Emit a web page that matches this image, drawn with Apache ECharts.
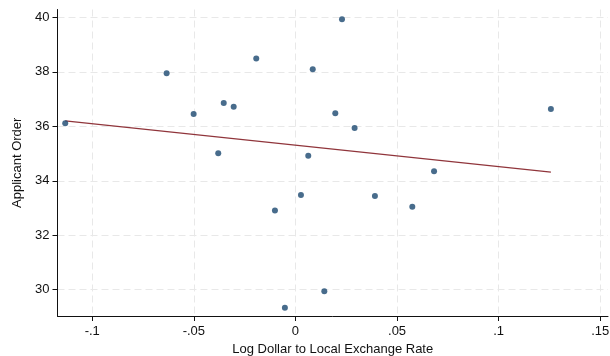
<!DOCTYPE html>
<html>
<head>
<meta charset="utf-8">
<script src="https://cdn.jsdelivr.net/npm/echarts@6/dist/echarts.min.js"></script>
<style>
html,body{margin:0;padding:0;background:#fff;}
#chart{width:610px;height:356px;}
</style>
</head>
<body>
<div id="chart"></div>
<script>
// Exchange-rate movement vs. applicant order, with linear fit
const logDollarRate = [-0.1133, -0.0634, -0.0501, -0.0380, -0.0353, -0.0304, -0.0193, -0.0101, -0.0052, 0.0027,
                       0.0063, 0.0085, 0.0142, 0.0196, 0.0229, 0.0291, 0.0391, 0.0575, 0.0682, 0.1257];
const applicantOrder = [36.11, 37.95, 36.45, 35.01, 36.86, 36.72, 38.49, 32.91, 29.34, 33.48,
                        34.92, 38.10, 29.94, 36.48, 39.93, 35.94, 33.44, 33.05, 34.35, 36.64];
// fitted values at the ends of the data range
const fitX = [-0.1133, 0.1257];
const fitY = [36.20, 34.32];
const xTicks = [-0.1, -0.05, 0, 0.05, 0.1, 0.15];
const xTickLabels = ['-.1', '-.05', '0', '.05', '.1', '.15'];
const yTicks = [30, 32, 34, 36, 38, 40];

const font = '"Liberation Sans", Arial, Helvetica, sans-serif';
const points = logDollarRate.map((x, i) => [x, applicantOrder[i]]);
const fitLine = fitX.map((x, i) => [x, fitY[i]]);

const chart = echarts.init(document.getElementById('chart'), null, {renderer: 'canvas'});
chart.setOption({
  animation: false,
  backgroundColor: '#ffffff',
  grid: {left: 57.5, right: 2, top: 9.5, bottom: 40, containLabel: false, outerBoundsMode: 'none'},
  xAxis: {
    type: 'value',
    min: -0.1171,
    max: 0.1538,
    name: 'Log Dollar to Local Exchange Rate',
    nameLocation: 'middle',
    nameGap: 25,
    nameTextStyle: {fontFamily: font, fontSize: 13, color: '#111'},
    axisLine: {show: true, onZero: false, lineStyle: {color: '#111', width: 1}},
    axisTick: {show: true, length: 5, customValues: xTicks, lineStyle: {color: '#111'}},
    axisLabel: {
      customValues: xTicks,
      margin: 9,
      fontFamily: font, fontSize: 13, color: '#111',
      formatter: v => {
        const i = xTicks.findIndex(t => Math.abs(t - v) < 1e-9);
        return i >= 0 ? xTickLabels[i] : '';
      }
    },
    splitLine: {show: true, lineStyle: {color: '#e8e8e8', type: [7, 4], width: 1}}
  },
  yAxis: {
    type: 'value',
    min: 29.035,
    max: 40.29,
    name: 'Applicant Order',
    nameLocation: 'middle',
    nameGap: 34,
    nameTextStyle: {fontFamily: font, fontSize: 13, color: '#111'},
    axisLine: {show: true, onZero: false, lineStyle: {color: '#111', width: 1}},
    axisTick: {show: true, length: 5, customValues: yTicks, lineStyle: {color: '#111'}},
    axisLabel: {
      customValues: yTicks,
      margin: 8,
      fontFamily: font, fontSize: 13, color: '#111'
    },
    splitLine: {show: true, lineStyle: {color: '#e8e8e8', type: [7, 4], width: 1}}
  },
  series: [
    {
      type: 'line',
      data: fitLine,
      symbol: 'none',
      lineStyle: {color: '#90353b', width: 1.2},
      z: 2
    },
    {
      type: 'scatter',
      data: points,
      symbol: 'circle',
      symbolSize: 6,
      itemStyle: {color: '#1a476f'},
      z: 3
    }
  ]
});
</script>
</body>
</html>
